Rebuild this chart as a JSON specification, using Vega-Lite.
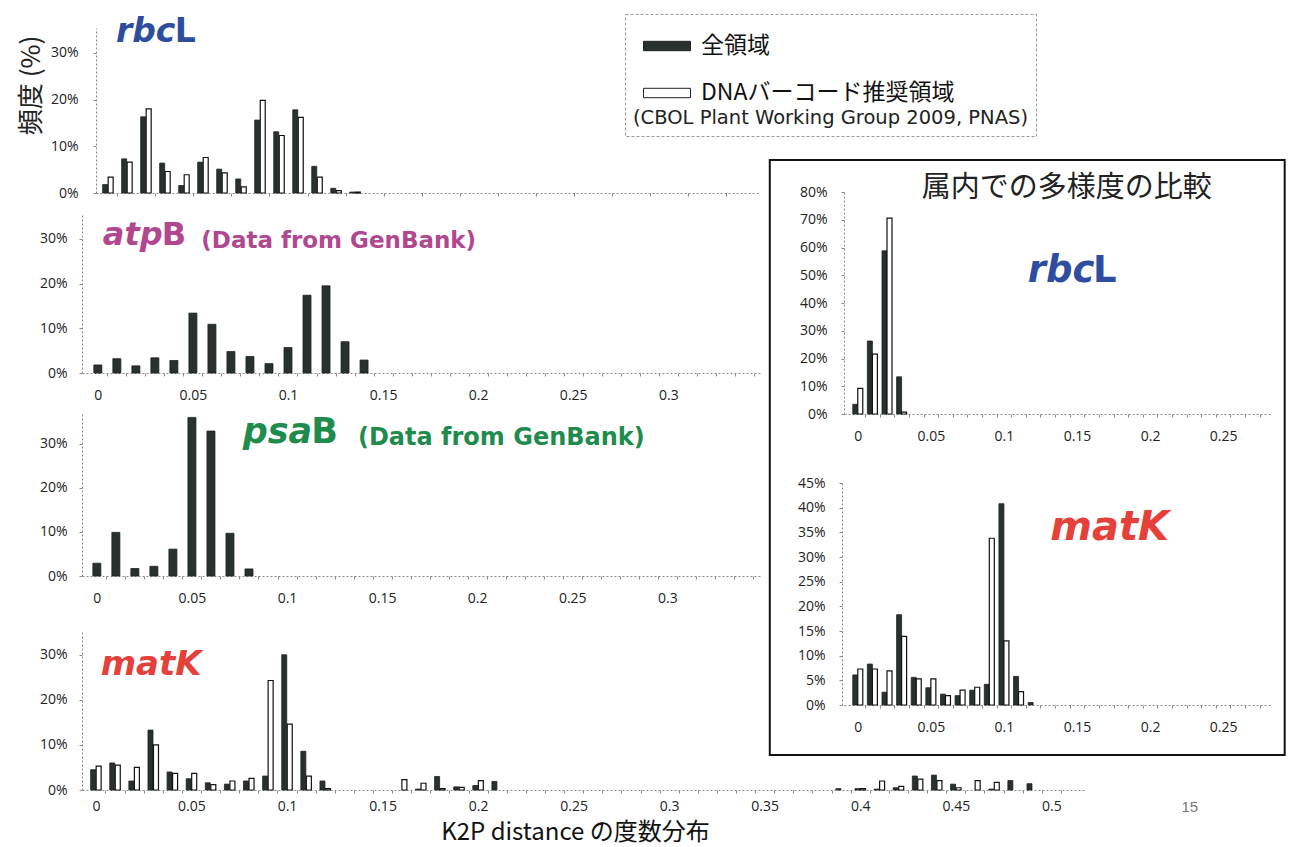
{
  "$schema": "https://vega.github.io/schema/vega-lite/v6.json",
  "width": 1300,
  "height": 847,
  "autosize": {"type": "none"},
  "padding": 0,
  "background": "white",
  "config": {
    "view": {"stroke": null},
    "axis": {
      "labelFont": "Open Sans", "labelFontSize": 14, "labelColor": "#222",
      "domainColor": "#8a8a8a", "domainDash": [2, 2], "domainWidth": 1,
      "tickColor": "#8a8a8a", "tickSize": 3, "grid": false, "labelPadding": 12,
      "labelOverlap": false
    }
  },
  "datasets": {
    "bars": [
      {"panel": "A", "series": "全領域", "k2p": 0, "pct": 1.8},
      {"panel": "A", "series": "DNAバーコード推奨領域", "k2p": 0, "pct": 3.4},
      {"panel": "A", "series": "全領域", "k2p": 0.01, "pct": 7.3},
      {"panel": "A", "series": "DNAバーコード推奨領域", "k2p": 0.01, "pct": 6.6},
      {"panel": "A", "series": "全領域", "k2p": 0.02, "pct": 16.3},
      {"panel": "A", "series": "DNAバーコード推奨領域", "k2p": 0.02, "pct": 18.0},
      {"panel": "A", "series": "全領域", "k2p": 0.03, "pct": 6.4},
      {"panel": "A", "series": "DNAバーコード推奨領域", "k2p": 0.03, "pct": 4.6},
      {"panel": "A", "series": "全領域", "k2p": 0.04, "pct": 1.6},
      {"panel": "A", "series": "DNAバーコード推奨領域", "k2p": 0.04, "pct": 3.9},
      {"panel": "A", "series": "全領域", "k2p": 0.05, "pct": 6.6},
      {"panel": "A", "series": "DNAバーコード推奨領域", "k2p": 0.05, "pct": 7.6},
      {"panel": "A", "series": "全領域", "k2p": 0.06, "pct": 5.1},
      {"panel": "A", "series": "DNAバーコード推奨領域", "k2p": 0.06, "pct": 4.3},
      {"panel": "A", "series": "全領域", "k2p": 0.07, "pct": 3.0},
      {"panel": "A", "series": "DNAバーコード推奨領域", "k2p": 0.07, "pct": 1.3},
      {"panel": "A", "series": "全領域", "k2p": 0.08, "pct": 15.6},
      {"panel": "A", "series": "DNAバーコード推奨領域", "k2p": 0.08, "pct": 19.8},
      {"panel": "A", "series": "全領域", "k2p": 0.09, "pct": 13.1},
      {"panel": "A", "series": "DNAバーコード推奨領域", "k2p": 0.09, "pct": 12.3},
      {"panel": "A", "series": "全領域", "k2p": 0.1, "pct": 17.8},
      {"panel": "A", "series": "DNAバーコード推奨領域", "k2p": 0.1, "pct": 16.2},
      {"panel": "A", "series": "全領域", "k2p": 0.11, "pct": 5.7},
      {"panel": "A", "series": "DNAバーコード推奨領域", "k2p": 0.11, "pct": 3.4},
      {"panel": "A", "series": "全領域", "k2p": 0.12, "pct": 1.0},
      {"panel": "A", "series": "DNAバーコード推奨領域", "k2p": 0.12, "pct": 0.5},
      {"panel": "A", "series": "全領域", "k2p": 0.13, "pct": 0.2},
      {"panel": "A", "series": "DNAバーコード推奨領域", "k2p": 0.13, "pct": 0.2},

      {"panel": "B", "series": "全領域", "k2p": 0, "pct": 1.8},
      {"panel": "B", "series": "全領域", "k2p": 0.01, "pct": 3.2},
      {"panel": "B", "series": "全領域", "k2p": 0.02, "pct": 1.6},
      {"panel": "B", "series": "全領域", "k2p": 0.03, "pct": 3.4},
      {"panel": "B", "series": "全領域", "k2p": 0.04, "pct": 2.8},
      {"panel": "B", "series": "全領域", "k2p": 0.05, "pct": 13.4},
      {"panel": "B", "series": "全領域", "k2p": 0.06, "pct": 10.9},
      {"panel": "B", "series": "全領域", "k2p": 0.07, "pct": 4.8},
      {"panel": "B", "series": "全領域", "k2p": 0.08, "pct": 3.7},
      {"panel": "B", "series": "全領域", "k2p": 0.09, "pct": 2.1},
      {"panel": "B", "series": "全領域", "k2p": 0.1, "pct": 5.7},
      {"panel": "B", "series": "全領域", "k2p": 0.11, "pct": 17.4},
      {"panel": "B", "series": "全領域", "k2p": 0.12, "pct": 19.5},
      {"panel": "B", "series": "全領域", "k2p": 0.13, "pct": 7.0},
      {"panel": "B", "series": "全領域", "k2p": 0.14, "pct": 2.9},

      {"panel": "C", "series": "全領域", "k2p": 0, "pct": 2.9},
      {"panel": "C", "series": "全領域", "k2p": 0.01, "pct": 9.9},
      {"panel": "C", "series": "全領域", "k2p": 0.02, "pct": 1.7},
      {"panel": "C", "series": "全領域", "k2p": 0.03, "pct": 2.2},
      {"panel": "C", "series": "全領域", "k2p": 0.04, "pct": 6.1},
      {"panel": "C", "series": "全領域", "k2p": 0.05, "pct": 36.0},
      {"panel": "C", "series": "全領域", "k2p": 0.06, "pct": 32.9},
      {"panel": "C", "series": "全領域", "k2p": 0.07, "pct": 9.7},
      {"panel": "C", "series": "全領域", "k2p": 0.08, "pct": 1.6},

      {"panel": "D", "series": "全領域", "k2p": 0, "pct": 4.5},
      {"panel": "D", "series": "DNAバーコード推奨領域", "k2p": 0, "pct": 5.3},
      {"panel": "D", "series": "全領域", "k2p": 0.01, "pct": 6.0},
      {"panel": "D", "series": "DNAバーコード推奨領域", "k2p": 0.01, "pct": 5.5},
      {"panel": "D", "series": "全領域", "k2p": 0.02, "pct": 2.0},
      {"panel": "D", "series": "DNAバーコード推奨領域", "k2p": 0.02, "pct": 5.0},
      {"panel": "D", "series": "全領域", "k2p": 0.03, "pct": 13.3},
      {"panel": "D", "series": "DNAバーコード推奨領域", "k2p": 0.03, "pct": 10.0},
      {"panel": "D", "series": "全領域", "k2p": 0.04, "pct": 4.0},
      {"panel": "D", "series": "DNAバーコード推奨領域", "k2p": 0.04, "pct": 3.7},
      {"panel": "D", "series": "全領域", "k2p": 0.05, "pct": 2.5},
      {"panel": "D", "series": "DNAバーコード推奨領域", "k2p": 0.05, "pct": 3.7},
      {"panel": "D", "series": "全領域", "k2p": 0.06, "pct": 1.6},
      {"panel": "D", "series": "DNAバーコード推奨領域", "k2p": 0.06, "pct": 1.2},
      {"panel": "D", "series": "全領域", "k2p": 0.07, "pct": 1.3},
      {"panel": "D", "series": "DNAバーコード推奨領域", "k2p": 0.07, "pct": 2.0},
      {"panel": "D", "series": "全領域", "k2p": 0.08, "pct": 2.0},
      {"panel": "D", "series": "DNAバーコード推奨領域", "k2p": 0.08, "pct": 2.6},
      {"panel": "D", "series": "全領域", "k2p": 0.09, "pct": 3.1},
      {"panel": "D", "series": "DNAバーコード推奨領域", "k2p": 0.09, "pct": 24.3},
      {"panel": "D", "series": "全領域", "k2p": 0.1, "pct": 30.0},
      {"panel": "D", "series": "DNAバーコード推奨領域", "k2p": 0.1, "pct": 14.6},
      {"panel": "D", "series": "全領域", "k2p": 0.11, "pct": 8.6},
      {"panel": "D", "series": "DNAバーコード推奨領域", "k2p": 0.11, "pct": 3.1},
      {"panel": "D", "series": "全領域", "k2p": 0.12, "pct": 2.0},
      {"panel": "D", "series": "DNAバーコード推奨領域", "k2p": 0.12, "pct": 0.3},
      {"panel": "D", "series": "DNAバーコード推奨領域", "k2p": 0.16, "pct": 2.3},
      {"panel": "D", "series": "全領域", "k2p": 0.17, "pct": 0.2},
      {"panel": "D", "series": "DNAバーコード推奨領域", "k2p": 0.17, "pct": 1.5},
      {"panel": "D", "series": "全領域", "k2p": 0.18, "pct": 3.0},
      {"panel": "D", "series": "DNAバーコード推奨領域", "k2p": 0.18, "pct": 0.3},
      {"panel": "D", "series": "全領域", "k2p": 0.19, "pct": 0.7},
      {"panel": "D", "series": "DNAバーコード推奨領域", "k2p": 0.19, "pct": 0.6},
      {"panel": "D", "series": "全領域", "k2p": 0.2, "pct": 1.0},
      {"panel": "D", "series": "DNAバーコード推奨領域", "k2p": 0.2, "pct": 2.1},
      {"panel": "D", "series": "全領域", "k2p": 0.21, "pct": 1.9},
      {"panel": "D", "series": "全領域", "k2p": 0.39, "pct": 0.3},
      {"panel": "D", "series": "全領域", "k2p": 0.4, "pct": 0.3},
      {"panel": "D", "series": "DNAバーコード推奨領域", "k2p": 0.4, "pct": 0.3},
      {"panel": "D", "series": "全領域", "k2p": 0.41, "pct": 0.2},
      {"panel": "D", "series": "DNAバーコード推奨領域", "k2p": 0.41, "pct": 2.0},
      {"panel": "D", "series": "全領域", "k2p": 0.42, "pct": 0.5},
      {"panel": "D", "series": "DNAバーコード推奨領域", "k2p": 0.42, "pct": 0.8},
      {"panel": "D", "series": "全領域", "k2p": 0.43, "pct": 3.1},
      {"panel": "D", "series": "DNAバーコード推奨領域", "k2p": 0.43, "pct": 2.4},
      {"panel": "D", "series": "全領域", "k2p": 0.44, "pct": 3.3},
      {"panel": "D", "series": "DNAバーコード推奨領域", "k2p": 0.44, "pct": 2.1},
      {"panel": "D", "series": "全領域", "k2p": 0.45, "pct": 1.3},
      {"panel": "D", "series": "DNAバーコード推奨領域", "k2p": 0.45, "pct": 0.5},
      {"panel": "D", "series": "DNAバーコード推奨領域", "k2p": 0.46, "pct": 2.1},
      {"panel": "D", "series": "全領域", "k2p": 0.47, "pct": 0.2},
      {"panel": "D", "series": "DNAバーコード推奨領域", "k2p": 0.47, "pct": 1.7},
      {"panel": "D", "series": "全領域", "k2p": 0.48, "pct": 2.1},
      {"panel": "D", "series": "全領域", "k2p": 0.49, "pct": 1.4},

      {"panel": "I1", "series": "全領域", "k2p": 0, "pct": 3.5},
      {"panel": "I1", "series": "DNAバーコード推奨領域", "k2p": 0, "pct": 9.2},
      {"panel": "I1", "series": "全領域", "k2p": 0.01, "pct": 26.3},
      {"panel": "I1", "series": "DNAバーコード推奨領域", "k2p": 0.01, "pct": 21.6},
      {"panel": "I1", "series": "全領域", "k2p": 0.02, "pct": 58.8},
      {"panel": "I1", "series": "DNAバーコード推奨領域", "k2p": 0.02, "pct": 70.6},
      {"panel": "I1", "series": "全領域", "k2p": 0.03, "pct": 13.4},
      {"panel": "I1", "series": "DNAバーコード推奨領域", "k2p": 0.03, "pct": 0.7},

      {"panel": "I2", "series": "全領域", "k2p": 0, "pct": 6.1},
      {"panel": "I2", "series": "DNAバーコード推奨領域", "k2p": 0, "pct": 7.3},
      {"panel": "I2", "series": "全領域", "k2p": 0.01, "pct": 8.3},
      {"panel": "I2", "series": "DNAバーコード推奨領域", "k2p": 0.01, "pct": 7.3},
      {"panel": "I2", "series": "全領域", "k2p": 0.02, "pct": 2.6},
      {"panel": "I2", "series": "DNAバーコード推奨領域", "k2p": 0.02, "pct": 6.9},
      {"panel": "I2", "series": "全領域", "k2p": 0.03, "pct": 18.3},
      {"panel": "I2", "series": "DNAバーコード推奨領域", "k2p": 0.03, "pct": 13.9},
      {"panel": "I2", "series": "全領域", "k2p": 0.04, "pct": 5.6},
      {"panel": "I2", "series": "DNAバーコード推奨領域", "k2p": 0.04, "pct": 5.3},
      {"panel": "I2", "series": "全領域", "k2p": 0.05, "pct": 3.5},
      {"panel": "I2", "series": "DNAバーコード推奨領域", "k2p": 0.05, "pct": 5.3},
      {"panel": "I2", "series": "全領域", "k2p": 0.06, "pct": 2.2},
      {"panel": "I2", "series": "DNAバーコード推奨領域", "k2p": 0.06, "pct": 1.9},
      {"panel": "I2", "series": "全領域", "k2p": 0.07, "pct": 1.9},
      {"panel": "I2", "series": "DNAバーコード推奨領域", "k2p": 0.07, "pct": 3.0},
      {"panel": "I2", "series": "全領域", "k2p": 0.08, "pct": 3.0},
      {"panel": "I2", "series": "DNAバーコード推奨領域", "k2p": 0.08, "pct": 3.6},
      {"panel": "I2", "series": "全領域", "k2p": 0.09, "pct": 4.2},
      {"panel": "I2", "series": "DNAバーコード推奨領域", "k2p": 0.09, "pct": 33.8},
      {"panel": "I2", "series": "全領域", "k2p": 0.1, "pct": 40.8},
      {"panel": "I2", "series": "DNAバーコード推奨領域", "k2p": 0.1, "pct": 13.0},
      {"panel": "I2", "series": "全領域", "k2p": 0.11, "pct": 5.8},
      {"panel": "I2", "series": "DNAバーコード推奨領域", "k2p": 0.11, "pct": 2.7},
      {"panel": "I2", "series": "全領域", "k2p": 0.12, "pct": 0.5}
    ]
  },
  "layer": [
    {
      "data": {"name": "bars"},
      "layer": [
        {
          "transform": [{"filter": "datum.panel === 'A' && datum.series === '全領域'"}],
          "mark": {"type": "bar", "width": 5, "xOffset": -2.75, "stroke": "#1c2220", "strokeWidth": 0.8},
          "encoding": {
            "x": {"field": "k2p", "type": "quantitative",
              "scale": {"domain": [-0.00363, 0.3404], "range": [96, 760], "nice": false, "zero": false},
              "axis": {"orient": "bottom", "offset": -654, "title": null, "labels": false,
                "values": [0.005,0.015,0.025,0.035,0.045,0.055,0.065,0.075,0.085,0.095,0.105,0.115,0.125,0.135,0.145,0.155,0.165,0.175,0.185,0.195,0.205,0.215,0.225,0.235,0.245,0.255,0.265,0.275,0.285,0.295,0.305,0.315,0.325,0.335]}},
            "y": {"field": "pct", "type": "quantitative",
              "scale": {"domain": [0, 35.3], "range": [193, 28], "nice": false},
              "axis": {"orient": "left", "offset": -96, "values": [0, 10, 20, 30], "labelExpr": "datum.value + '%'", "labelPadding": 15,
                "title": "頻度 (%)", "titleFont": "Noto Sans CJK JP", "titleFontSize": 26, "titleFontWeight": "normal", "titleColor": "#222",
                "titleAngle": 270, "titleAlign": "center", "titleBaseline": "middle", "titleX": -65, "titleY": 85}},
            "color": {"field": "series", "type": "nominal",
              "scale": {"domain": ["全領域", "DNAバーコード推奨領域"], "range": ["#29312e", "#ffffff"]},
              "legend": {"orient": "none", "legendX": 625, "legendY": 14, "direction": "vertical",
                "title": "\u00a0\u00a0\u00a0\u00a0\u00a0\u00a0\u00a0\u00a0\u00a0\u00a0\u00a0(CBOL Plant Working Group 2009, PNAS)", "titleOrient": "bottom", "titleAnchor": "start",
                "titleFont": "DejaVu Sans", "titleFontSize": 19.5, "titleFontWeight": "normal", "titleColor": "#222", "titlePadding": 4, "titleLimit": 0,
                "labelFont": "Noto Sans CJK JP", "labelFontSize": 23, "labelColor": "#111", "labelLimit": 0, "labelOffset": 10,
                "symbolType": "M-1,-0.2H1V0.2H-1Z", "symbolSize": 2209, "symbolStrokeColor": "#222", "symbolStrokeWidth": 1, "symbolOffset": 10,
                "rowPadding": 11, "padding": 8, "strokeColor": "#999", "fillColor": "white",
                "encode": {"legend": {"update": {"strokeDash": {"value": [3, 2]}}}}}}
          }
        },
        {
          "transform": [{"filter": "datum.panel === 'A' && datum.series !== '全領域'"}],
          "mark": {"type": "bar", "width": 5, "xOffset": 2.75, "stroke": "#111", "strokeWidth": 1.2},
          "encoding": {
            "x": {"field": "k2p", "type": "quantitative"},
            "y": {"field": "pct", "type": "quantitative"},
            "color": {"field": "series", "type": "nominal"}
          }
        },
        {
          "data": {"values": [{"t": "rbc"}]},
          "mark": {"type": "text", "font": "DejaVu Sans", "fontWeight": "bold", "fontStyle": "italic", "fontSize": 33, "align": "left", "baseline": "alphabetic", "fill": "#2e4d9e"},
          "encoding": {"text": {"field": "t"}, "x": {"datum": 0.0042}, "y": {"datum": 32.3}}
        },
        {
          "data": {"values": [{"t": "L"}]},
          "mark": {"type": "text", "font": "DejaVu Sans", "fontWeight": "bold", "fontSize": 33, "align": "left", "baseline": "alphabetic", "fill": "#2e4d9e"},
          "encoding": {"text": {"field": "t"}, "x": {"datum": 0.0352}, "y": {"datum": 32.3}}
        }
      ]
    },
    {
      "data": {"name": "bars"},
      "resolve": {"axis": {"x": "independent"}},
      "layer": [
        {
          "transform": [{"filter": "datum.panel === 'B'"}],
          "mark": {"type": "bar", "width": 8, "stroke": "#1c2220", "strokeWidth": 0.8},
          "encoding": {
            "x": {"field": "k2p", "type": "quantitative",
              "scale": {"domain": [-0.0057, 0.3456], "range": [82, 760], "nice": false, "zero": false},
              "axis": {"orient": "bottom", "offset": -474, "title": null, "ticks": false, "labelPadding": 15, "format": ".2~f",
                "values": [0, 0.05, 0.1, 0.15, 0.2, 0.25, 0.3]}},
            "y": {"field": "pct", "type": "quantitative",
              "scale": {"domain": [0, 35.8], "range": [373, 213], "nice": false},
              "axis": {"orient": "left", "offset": -82, "values": [0, 10, 20, 30], "labelExpr": "datum.value + '%'", "title": null}},
            "color": {"field": "series", "type": "nominal"}
          }
        },
        {
          "data": {"values": [{"t": "atp"}]},
          "mark": {"type": "text", "font": "DejaVu Sans", "fontWeight": "bold", "fontStyle": "italic", "fontSize": 32, "align": "left", "baseline": "alphabetic", "fill": "#b0478f"},
          "encoding": {"text": {"field": "t"}, "x": {"datum": 0.0026, "axis": null}, "y": {"datum": 28.6}}
        },
        {
          "data": {"values": [{"t": "B"}]},
          "mark": {"type": "text", "font": "DejaVu Sans", "fontWeight": "bold", "fontSize": 32, "align": "left", "baseline": "alphabetic", "fill": "#b0478f"},
          "encoding": {"text": {"field": "t"}, "x": {"datum": 0.0336, "axis": null}, "y": {"datum": 28.6}}
        },
        {
          "data": {"values": [{"t": "(Data from GenBank)"}]},
          "mark": {"type": "text", "font": "DejaVu Sans", "fontWeight": "bold", "fontSize": 23, "align": "left", "baseline": "alphabetic", "fill": "#b0478f"},
          "encoding": {"text": {"field": "t"},
            "x": {"datum": 0.0544, "axis": {"orient": "bottom", "offset": -474, "title": null, "labels": false, "domain": false,
              "values": [0.005,0.015,0.025,0.035,0.045,0.055,0.065,0.075,0.085,0.095,0.105,0.115,0.125,0.135,0.145,0.155,0.165,0.175,0.185,0.195,0.205,0.215,0.225,0.235,0.245,0.255,0.265,0.275,0.285,0.295,0.305,0.315,0.325,0.335,0.345]}},
            "y": {"datum": 28.0}}
        }
      ]
    },
    {
      "data": {"name": "bars"},
      "resolve": {"axis": {"x": "independent"}},
      "layer": [
        {
          "transform": [{"filter": "datum.panel === 'C'"}],
          "mark": {"type": "bar", "width": 8, "stroke": "#1c2220", "strokeWidth": 0.8},
          "encoding": {
            "x": {"field": "k2p", "type": "quantitative",
              "scale": {"domain": [-0.00518, 0.3461], "range": [82, 760], "nice": false, "zero": false},
              "axis": {"orient": "bottom", "offset": -271, "title": null, "ticks": false, "labelPadding": 15, "format": ".2~f",
                "values": [0, 0.05, 0.1, 0.15, 0.2, 0.25, 0.3]}},
            "y": {"field": "pct", "type": "quantitative",
              "scale": {"domain": [0, 37], "range": [576, 413], "nice": false},
              "axis": {"orient": "left", "offset": -82, "values": [0, 10, 20, 30], "labelExpr": "datum.value + '%'", "title": null}},
            "color": {"field": "series", "type": "nominal"}
          }
        },
        {
          "data": {"values": [{"t": "psa"}]},
          "mark": {"type": "text", "font": "DejaVu Sans", "fontWeight": "bold", "fontStyle": "italic", "fontSize": 35, "align": "left", "baseline": "alphabetic", "fill": "#1f8c4d"},
          "encoding": {"text": {"field": "t"}, "x": {"datum": 0.0767, "axis": null}, "y": {"datum": 30.2}}
        },
        {
          "data": {"values": [{"t": "B"}]},
          "mark": {"type": "text", "font": "DejaVu Sans", "fontWeight": "bold", "fontSize": 35, "align": "left", "baseline": "alphabetic", "fill": "#1f8c4d"},
          "encoding": {"text": {"field": "t"}, "x": {"datum": 0.1127, "axis": null}, "y": {"datum": 30.2}}
        },
        {
          "data": {"values": [{"t": "(Data from GenBank)"}]},
          "mark": {"type": "text", "font": "DejaVu Sans", "fontWeight": "bold", "fontSize": 24, "align": "left", "baseline": "alphabetic", "fill": "#1f8c4d"},
          "encoding": {"text": {"field": "t"},
            "x": {"datum": 0.1373, "axis": {"orient": "bottom", "offset": -271, "title": null, "labels": false, "domain": false,
              "values": [0.005,0.015,0.025,0.035,0.045,0.055,0.065,0.075,0.085,0.095,0.105,0.115,0.125,0.135,0.145,0.155,0.165,0.175,0.185,0.195,0.205,0.215,0.225,0.235,0.245,0.255,0.265,0.275,0.285,0.295,0.305,0.315,0.325,0.335,0.345]}},
            "y": {"datum": 29.7}}
        }
      ]
    },
    {
      "data": {"name": "bars"},
      "resolve": {"axis": {"x": "independent"}},
      "layer": [
        {
          "transform": [{"filter": "datum.panel === 'D' && datum.series === '全領域'"}],
          "mark": {"type": "bar", "width": 5, "xOffset": -2.75, "stroke": "#1c2220", "strokeWidth": 0.8},
          "encoding": {
            "x": {"field": "k2p", "type": "quantitative",
              "scale": {"domain": [-0.00466, 0.515], "range": [82, 1085], "nice": false, "zero": false},
              "axis": {"orient": "bottom", "offset": -57, "ticks": false, "labelPadding": 9, "format": ".2~f",
                "values": [0, 0.05, 0.1, 0.15, 0.2, 0.25, 0.3, 0.35, 0.4, 0.45, 0.5],
                "title": "K2P distance の度数分布", "titleFont": "Noto Sans CJK JP", "titleFontSize": 24, "titleFontWeight": "normal", "titleColor": "#111",
                "titleX": 575, "titleY": 49, "titleAlign": "center", "titleBaseline": "alphabetic"}},
            "y": {"field": "pct", "type": "quantitative",
              "scale": {"domain": [0, 35.5], "range": [790, 630], "nice": false},
              "axis": {"orient": "left", "offset": -82, "values": [0, 10, 20, 30], "labelExpr": "datum.value + '%'", "title": null}},
            "color": {"field": "series", "type": "nominal"}
          }
        },
        {
          "transform": [{"filter": "datum.panel === 'D' && datum.series !== '全領域'"}],
          "mark": {"type": "bar", "width": 5, "xOffset": 2.75, "stroke": "#111", "strokeWidth": 1.2},
          "encoding": {
            "x": {"field": "k2p", "type": "quantitative",
              "axis": {"orient": "bottom", "offset": -57, "title": null, "labels": false, "domain": false,
                "values": [0.005,0.015,0.025,0.035,0.045,0.055,0.065,0.075,0.085,0.095,0.105,0.115,0.125,0.135,0.145,0.155,0.165,0.175,0.185,0.195,0.205,0.215,0.225,0.235,0.245,0.255,0.265,0.275,0.285,0.295,0.305,0.315,0.325,0.335,0.345,0.355,0.365,0.375,0.385,0.395,0.405,0.415,0.425,0.435,0.445,0.455,0.465,0.475,0.485,0.495,0.505]}},
            "y": {"field": "pct", "type": "quantitative"},
            "color": {"field": "series", "type": "nominal"}
          }
        },
        {
          "data": {"values": [{"t": "matK"}]},
          "mark": {"type": "text", "font": "DejaVu Sans", "fontWeight": "bold", "fontStyle": "italic", "fontSize": 34, "align": "left", "baseline": "alphabetic", "fill": "#e5413b"},
          "encoding": {"text": {"field": "t"}, "x": {"datum": 0.0025, "axis": null}, "y": {"datum": 25.6}}
        },
        {
          "data": {"values": [{"t": "15"}]},
          "mark": {"type": "text", "font": "Liberation Sans", "fontSize": 15, "align": "center", "baseline": "alphabetic", "fill": "#777"},
          "encoding": {"text": {"field": "t"}, "x": {"datum": 0.5725, "axis": null}, "y": {"datum": -4.9}}
        }
      ]
    },
    {
      "data": {"name": "bars"},
      "resolve": {"axis": {"x": "independent"}},
      "layer": [
        {
          "transform": [{"filter": "datum.panel === 'I1' && datum.series === '全領域'"}],
          "mark": {"type": "bar", "width": 5, "xOffset": -2.5, "stroke": "#1c2220", "strokeWidth": 0.8},
          "encoding": {
            "x": {"field": "k2p", "type": "quantitative",
              "scale": {"domain": [-0.006, 0.28], "range": [844, 1272], "nice": false, "zero": false},
              "axis": {"orient": "bottom", "offset": -433, "title": null, "ticks": false, "labelPadding": 15, "format": ".2~f",
                "values": [0, 0.05, 0.1, 0.15, 0.2, 0.25]}},
            "y": {"field": "pct", "type": "quantitative",
              "scale": {"domain": [0, 80], "range": [414, 192], "nice": false},
              "axis": {"orient": "left", "offset": -844, "values": [0, 10, 20, 30, 40, 50, 60, 70, 80], "labelExpr": "datum.value + '%'", "labelPadding": 14, "title": null}},
            "color": {"field": "series", "type": "nominal"}
          }
        },
        {
          "transform": [{"filter": "datum.panel === 'I1' && datum.series !== '全領域'"}],
          "mark": {"type": "bar", "width": 5, "xOffset": 2.5, "stroke": "#111", "strokeWidth": 1.2},
          "encoding": {
            "x": {"field": "k2p", "type": "quantitative",
              "axis": {"orient": "bottom", "offset": -433, "title": null, "labels": false, "domain": false,
                "values": [0.005,0.015,0.025,0.035,0.045,0.055,0.065,0.075,0.085,0.095,0.105,0.115,0.125,0.135,0.145,0.155,0.165,0.175,0.185,0.195,0.205,0.215,0.225,0.235,0.245,0.255,0.265,0.275]}},
            "y": {"field": "pct", "type": "quantitative"},
            "color": {"field": "series", "type": "nominal"}
          }
        },
        {
          "data": {"values": [{"t": "属内での多様度の比較"}]},
          "mark": {"type": "text", "font": "Noto Sans CJK JP", "fontSize": 29, "align": "center", "baseline": "alphabetic", "fill": "#222"},
          "encoding": {"text": {"field": "t"}, "x": {"datum": 0.143, "axis": null}, "y": {"datum": 78.2}}
        },
        {
          "data": {"values": [{"t": "rbc"}]},
          "mark": {"type": "text", "font": "DejaVu Sans", "fontWeight": "bold", "fontStyle": "italic", "fontSize": 37, "align": "left", "baseline": "alphabetic", "fill": "#2e4d9e"},
          "encoding": {"text": {"field": "t"}, "x": {"datum": 0.1163, "axis": null}, "y": {"datum": 47.6}}
        },
        {
          "data": {"values": [{"t": "L"}]},
          "mark": {"type": "text", "font": "DejaVu Sans", "fontWeight": "bold", "fontSize": 37, "align": "left", "baseline": "alphabetic", "fill": "#2e4d9e"},
          "encoding": {"text": {"field": "t"}, "x": {"datum": 0.1609, "axis": null}, "y": {"datum": 47.6}}
        },
        {
          "data": {"values": [{"box": "inset"}]},
          "mark": {"type": "rect", "fill": "transparent", "stroke": "#111", "strokeWidth": 2},
          "encoding": {"x": {"datum": -0.0602, "axis": null}, "x2": {"datum": 0.2921}, "y": {"datum": 91.5}, "y2": {"datum": -122.9}}
        }
      ]
    },
    {
      "data": {"name": "bars"},
      "resolve": {"axis": {"x": "independent"}},
      "layer": [
        {
          "transform": [{"filter": "datum.panel === 'I2' && datum.series === '全領域'"}],
          "mark": {"type": "bar", "width": 5, "xOffset": -2.5, "stroke": "#1c2220", "strokeWidth": 0.8},
          "encoding": {
            "x": {"field": "k2p", "type": "quantitative",
              "scale": {"domain": [-0.006, 0.28], "range": [844, 1272], "nice": false, "zero": false},
              "axis": {"orient": "bottom", "offset": -142, "title": null, "ticks": false, "labelPadding": 15, "format": ".2~f",
                "values": [0, 0.05, 0.1, 0.15, 0.2, 0.25]}},
            "y": {"field": "pct", "type": "quantitative",
              "scale": {"domain": [0, 45], "range": [705, 483], "nice": false},
              "axis": {"orient": "left", "offset": -842, "values": [0, 5, 10, 15, 20, 25, 30, 35, 40, 45], "labelExpr": "datum.value + '%'", "labelPadding": 14, "title": null}},
            "color": {"field": "series", "type": "nominal"}
          }
        },
        {
          "transform": [{"filter": "datum.panel === 'I2' && datum.series !== '全領域'"}],
          "mark": {"type": "bar", "width": 5, "xOffset": 2.5, "stroke": "#111", "strokeWidth": 1.2},
          "encoding": {
            "x": {"field": "k2p", "type": "quantitative",
              "axis": {"orient": "bottom", "offset": -142, "title": null, "labels": false, "domain": false,
                "values": [0.005,0.015,0.025,0.035,0.045,0.055,0.065,0.075,0.085,0.095,0.105,0.115,0.125,0.135,0.145,0.155,0.165,0.175,0.185,0.195,0.205,0.215,0.225,0.235,0.245,0.255,0.265,0.275]}},
            "y": {"field": "pct", "type": "quantitative"},
            "color": {"field": "series", "type": "nominal"}
          }
        },
        {
          "data": {"values": [{"t": "matK"}]},
          "mark": {"type": "text", "font": "DejaVu Sans", "fontWeight": "bold", "fontStyle": "italic", "fontSize": 40, "align": "left", "baseline": "alphabetic", "fill": "#e5413b"},
          "encoding": {"text": {"field": "t"}, "x": {"datum": 0.1317, "axis": null}, "y": {"datum": 33.5}}
        }
      ]
    }
  ],
  "resolve": {"scale": {"x": "independent", "y": "independent"}, "axis": {"x": "independent", "y": "independent"}}
}
